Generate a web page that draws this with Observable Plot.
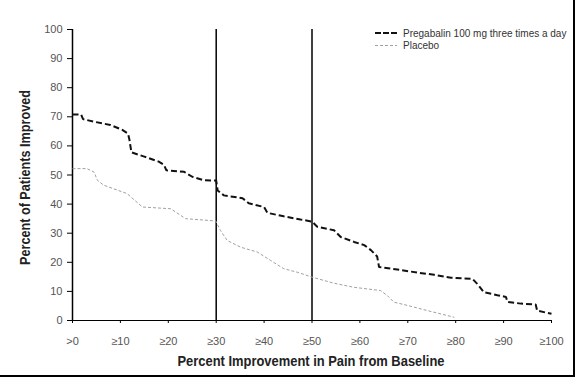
<!DOCTYPE html>
<html>
<head>
<meta charset="utf-8">
<script src="https://cdn.jsdelivr.net/npm/d3@7"></script>
<script src="https://cdn.jsdelivr.net/npm/@observablehq/plot@0.6"></script>
<style>
  html, body { margin: 0; padding: 0; background: #fff; }
  #chart { position: relative; width: 575px; height: 377px; overflow: hidden; }
</style>
</head>
<body>
<div id="chart"></div>
<script>
// ---- data ----
const xTicks = [0, 10, 20, 30, 40, 50, 60, 70, 80, 90, 100];
const xTickLabels = [">0", "≥10", "≥20", "≥30", "≥40", "≥50", "≥60", "≥70", "≥80", "≥90", "≥100"];
const yTicks = [0, 10, 20, 30, 40, 50, 60, 70, 80, 90, 100];
const refLines = [30, 50];

const seriesNames = ["Pregabalin 100 mg three times a day", "Placebo"];

const pregX = [0, 1.8, 2.2, 4.5, 7.9, 10.4, 11.6, 11.9, 12.3, 15, 18, 19.1, 19.6, 23.3, 25, 27.4, 30, 30.3, 31.6, 35.5, 36.8, 40, 40.7, 44.1, 47.6, 50, 51.1, 54.6, 56, 58.8, 60.9, 62.3, 63.6, 64, 67.8, 72.3, 75.5, 79, 83.5, 84.5, 85.9, 88.7, 90.5, 90.8, 93.6, 96.7, 97, 100];
const pregY = [70.8, 70.8, 69.2, 68.3, 67.2, 65.5, 64.2, 62, 57.8, 56.3, 54.6, 53.5, 51.6, 51.1, 49.4, 48.2, 48.1, 44.7, 43, 42, 40.3, 39, 37, 35.8, 34.7, 34, 32.2, 31, 28.7, 27, 25.9, 24.2, 22, 18.4, 17.5, 16.4, 15.7, 14.7, 14.3, 12.6, 9.7, 8.7, 8.1, 6.4, 5.8, 5.5, 3.4, 2.3];

const placX = [0, 3, 4.5, 5.2, 6.5, 11.4, 14.6, 20.5, 23.6, 29.9, 30.9, 32.3, 35.1, 38.6, 41.4, 44.1, 46.9, 50, 54.6, 58.8, 64.3, 65.7, 67.1, 69.9, 74.1, 79.7];
const placY = [52.2, 52.2, 51, 48.2, 46.5, 43.6, 39, 38.4, 35, 34.2, 30.9, 27.5, 25.2, 23.5, 20.6, 17.8, 16.6, 14.9, 12.8, 11.4, 10.3, 8.6, 6.3, 5.2, 3.4, 1.1];

const xTitle = "Percent Improvement in Pain from Baseline";
const yTitle = "Percent of Patients Improved";

// ---- build tables ----
const preg = pregX.map((x, i) => ({x, y: pregY[i]}));
const plac = placX.map((x, i) => ({x, y: placY[i]}));
const labelMap = new Map(xTicks.map((t, i) => [t, xTickLabels[i]]));

const W = 575, H = 377;
const pregStyle = {stroke: "#111", width: 2, dash: "6,3"};
const placStyle = {stroke: "#a0a0a0", width: 1, dash: "3,2"};

const plot = Plot.plot({
  width: W,
  height: H,
  marginLeft: 72,
  marginRight: 24,
  marginTop: 29,
  marginBottom: 57,
  style: {fontFamily: "'Liberation Sans', Arial, sans-serif", fontSize: "11px", background: "#fff", color: "#555"},
  x: {domain: [0, 100]},
  y: {domain: [0, 100]},
  marks: [
    Plot.ruleX(refLines, {y1: 0, y2: 100, stroke: "#000", strokeWidth: 1.5}),
    Plot.ruleY([0], {stroke: "#000", strokeWidth: 1.2}),
    Plot.ruleX([0], {y1: 0, y2: 100, stroke: "#000", strokeWidth: 1.5}),
    Plot.line(plac, {x: "x", y: "y", stroke: placStyle.stroke, strokeWidth: placStyle.width, strokeDasharray: placStyle.dash, strokeLinecap: "butt", strokeLinejoin: "miter"}),
    Plot.line(preg, {x: "x", y: "y", stroke: pregStyle.stroke, strokeWidth: pregStyle.width, strokeDasharray: pregStyle.dash, strokeLinecap: "butt", strokeLinejoin: "miter"}),
    Plot.axisX({ticks: xTicks, tickFormat: d => labelMap.get(d), tickSize: 3, tickPadding: 14, stroke: "#000", fill: "#555", label: null}),
    Plot.axisY({ticks: yTicks, tickSize: 5, tickPadding: 5, stroke: "#000", fill: "#555", label: null})
  ]
});
document.getElementById("chart").appendChild(plot);

// ---- titles, legend, frame ----
const svg = d3.select(plot);
const ff = "'Liberation Sans', Arial, sans-serif";
svg.append("text")
  .attr("x", 311).attr("y", 366)
  .attr("text-anchor", "middle")
  .attr("font-family", ff).attr("font-weight", "bold").attr("font-size", 15)
  .attr("fill", "#222")
  .attr("textLength", 267).attr("lengthAdjust", "spacingAndGlyphs")
  .text(xTitle);
svg.append("text")
  .attr("transform", "translate(30,177.5) rotate(-90)")
  .attr("text-anchor", "middle")
  .attr("font-family", ff).attr("font-weight", "bold").attr("font-size", 15)
  .attr("fill", "#222")
  .attr("textLength", 175).attr("lengthAdjust", "spacingAndGlyphs")
  .text(yTitle);

const leg = svg.append("g").attr("font-family", ff).attr("font-size", 10).attr("fill", "#333");
const legStyles = [pregStyle, placStyle];
seriesNames.forEach((name, i) => {
  const yy = 33 + i * 12.5;
  leg.append("line").attr("x1", 375).attr("x2", 397).attr("y1", yy).attr("y2", yy)
    .attr("stroke", legStyles[i].stroke).attr("stroke-width", legStyles[i].width)
    .attr("stroke-dasharray", i === 0 ? "6,2" : "3,2");
  leg.append("text").attr("x", 403).attr("y", yy + 3.5).attr("text-anchor", "start").text(name);
});

svg.append("line").attr("x1", W - 1).attr("x2", W - 1).attr("y1", 0).attr("y2", H)
  .attr("stroke", "#000").attr("stroke-width", 2);
svg.append("line").attr("x1", 0).attr("x2", W).attr("y1", H - 1).attr("y2", H - 1)
  .attr("stroke", "#000").attr("stroke-width", 2);
</script>
</body>
</html>
